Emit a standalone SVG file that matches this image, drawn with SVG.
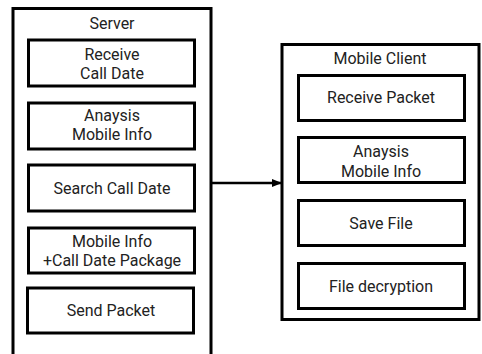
<svg xmlns="http://www.w3.org/2000/svg" width="482" height="354" viewBox="0 0 482 354">
<defs>
<style>
.outer{fill:#fff;stroke:#000;stroke-width:3}
.box{fill:#fff;stroke:#000;stroke-width:3}
text{font-family:Roboto,"Noto Sans","DejaVu Sans",sans-serif;font-size:16px;fill:#222;text-anchor:middle}
.conn{stroke:#000;stroke-width:2.5;fill:none}
</style>
<marker id="arrow" markerWidth="10" markerHeight="8" refX="9" refY="4" orient="auto" markerUnits="userSpaceOnUse">
<path d="M0,0 L10,4 L0,8 Z" fill="#000"/>
</marker>
</defs>
<rect width="482" height="354" fill="#fff"/>
<g id="server">
<rect class="outer" x="13" y="8.5" width="198" height="350"/>
<text x="112" y="29">Server</text>
</g>
<g id="receive-call-date">
<rect class="box" x="28.5" y="40" width="166" height="46"/>
<text x="112" y="60">Receive</text>
<text x="112" y="79">Call Date</text>
</g>
<g id="server-analysis">
<rect class="box" x="28.5" y="103" width="166" height="46"/>
<text x="112" y="121">Anaysis</text>
<text x="112" y="140">Mobile Info</text>
</g>
<g id="search-call-date">
<rect class="box" x="28.5" y="165" width="166" height="46"/>
<text x="112" y="194">Search Call Date</text>
</g>
<g id="package">
<rect class="box" x="28.5" y="228" width="166" height="45"/>
<text x="112" y="247">Mobile Info</text>
<text x="112" y="266">+Call Date Package</text>
</g>
<g id="send-packet">
<rect class="box" x="27.5" y="288" width="166" height="45"/>
<text x="111" y="316">Send Packet</text>
</g>
<g id="mobile-client">
<rect class="outer" x="282" y="44.5" width="197" height="275"/>
<text x="380" y="64">Mobile Client</text>
</g>
<g id="receive-packet">
<rect class="box" x="298.5" y="75.5" width="166" height="45"/>
<text x="381" y="103">Receive Packet</text>
</g>
<g id="client-analysis">
<rect class="box" x="298.5" y="137.5" width="166" height="45"/>
<text x="381" y="157">Anaysis</text>
<text x="381" y="177">Mobile Info</text>
</g>
<g id="save-file">
<rect class="box" x="298.5" y="200.5" width="166" height="45"/>
<text x="381" y="229">Save File</text>
</g>
<g id="file-decryption">
<rect class="box" x="298.5" y="263.5" width="166" height="45"/>
<text x="381" y="292">File decryption</text>
</g>
<g id="connectors">
<line class="conn" x1="212" y1="183" x2="281" y2="183" marker-end="url(#arrow)"/>
</g>
</svg>
